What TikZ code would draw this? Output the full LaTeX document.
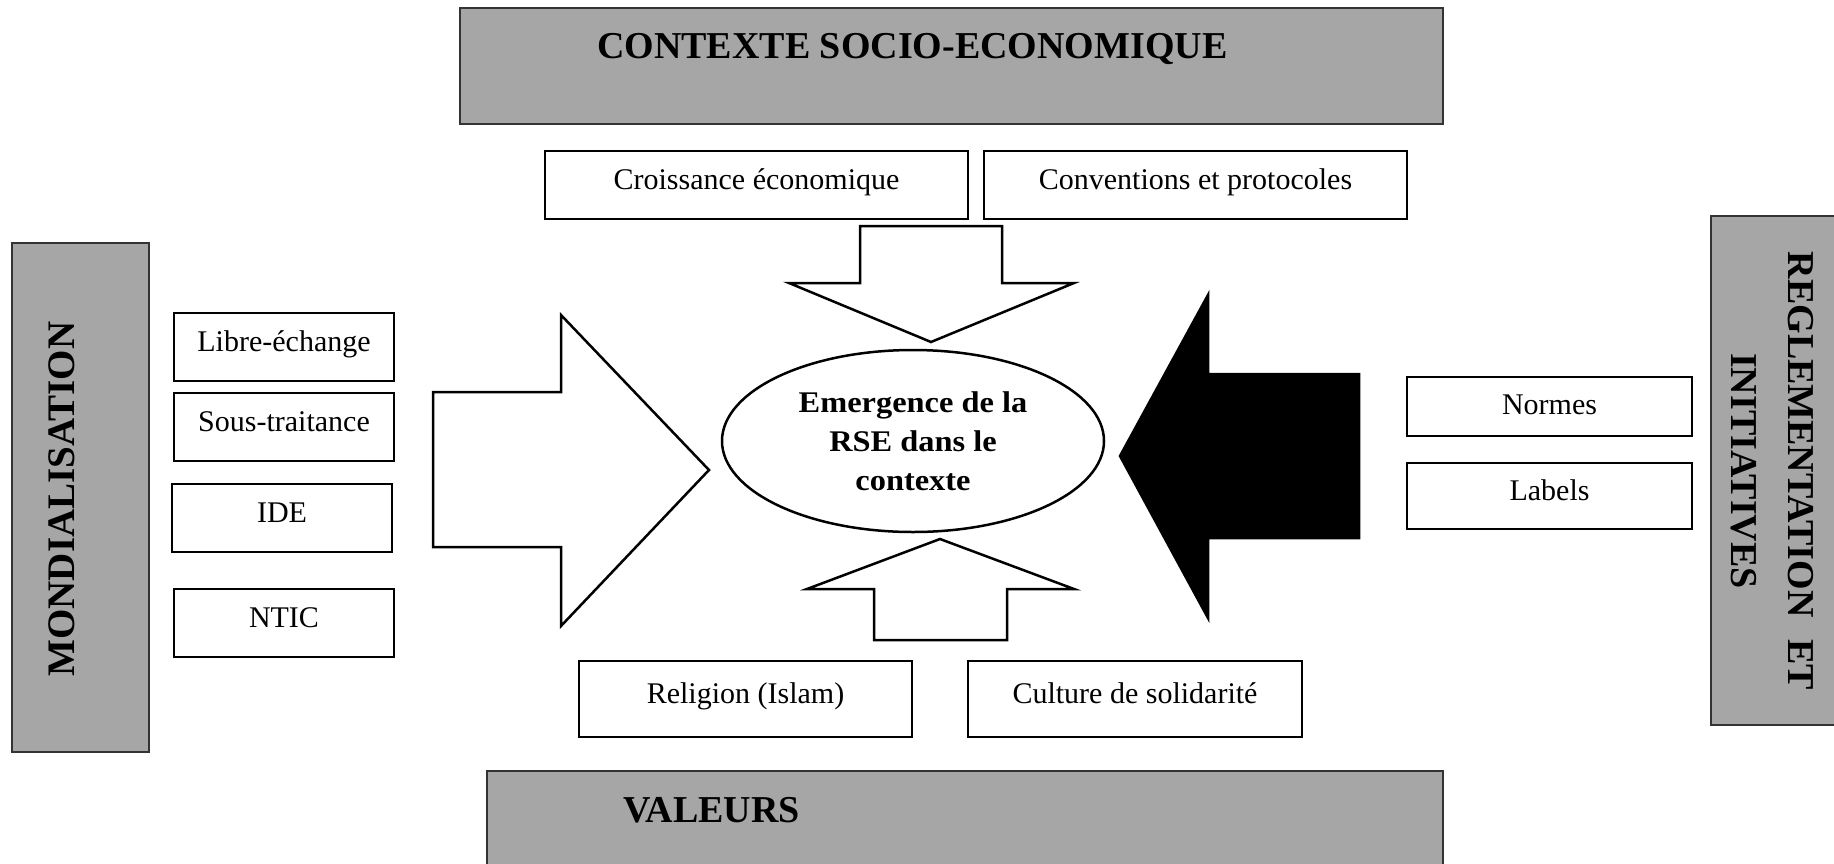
\documentclass[tikz,border=0pt]{standalone}
\usepackage{fontspec}
\setmainfont{Liberation Serif}
\newfontfamily\widebf[FakeStretch=1.08]{Liberation Serif}
\usetikzlibrary{shapes.geometric}
\definecolor{panelgrey}{HTML}{A6A6A6}

\begin{document}
\begin{tikzpicture}[x=1pt, y=-1pt,
    panel/.style={draw=black!80, line width=1.5pt, fill=panelgrey, inner sep=0pt},
    factor/.style={draw, line width=2.5pt, inner sep=0pt, minimum height=68pt,
                   text height=24pt, text depth=16pt, font=\fontsize{30}{36}\selectfont},
    flow/.style={draw, line width=2.5pt, line join=miter}]

  \useasboundingbox (0,0) rectangle (1834,863);

  \node[panel, minimum width=983pt, minimum height=116pt] (ctx) at (951.5,66) {};
  \node[panel, minimum width=956pt, minimum height=129pt] (val) at (965,835.5) {};
  \node[panel, minimum width=137pt, minimum height=509pt] (mond) at (80.5,497.5) {};
  \node[panel, minimum width=189pt, minimum height=509pt] (regl) at (1805.5,470.5) {};

  \node[anchor=base west, inner sep=0pt, font=\bfseries\fontsize{38}{44}\selectfont]
    (ctxtitle) at (597,58) {CONTEXTE SOCIO-ECONOMIQUE};
  \node[anchor=base west, inner sep=0pt, font=\bfseries\fontsize{38}{44}\selectfont]
    (valtitle) at (623,822) {VALEURS};
  \node[rotate=90, inner sep=0pt, font=\bfseries\fontsize{39}{44}\selectfont]
    (mondtitle) at (62,499) {MONDIALISATION};
  \node[rotate=-90, inner sep=0pt, align=center, font=\bfseries\fontsize{38}{57}\selectfont]
    (regltitle) at (1772,471) {REGLEMENTATION\hspace{22pt}ET\\INITIATIVES};

  \node[factor, minimum width=423pt] (croiss) at (756.5,185) {Croissance économique};
  \node[factor, minimum width=423pt] (conv) at (1195.5,185) {Conventions et protocoles};
  \node[factor, minimum width=220pt] (libre) at (284,347) {Libre-échange};
  \node[factor, minimum width=220pt] (sous) at (284,427) {Sous-traitance};
  \node[factor, minimum width=220pt] (ide) at (282,518) {IDE};
  \node[factor, minimum width=220pt] (ntic) at (284,623) {NTIC};
  \node[factor, minimum width=285pt, minimum height=59pt, text depth=8pt] (normes) at (1549.5,406.5) {Normes};
  \node[factor, minimum width=285pt, minimum height=66pt] (labels) at (1549.5,496) {Labels};
  \node[factor, minimum width=333pt, minimum height=76pt] (relig) at (745.5,699) {Religion (Islam)};
  \node[factor, minimum width=334pt, minimum height=76pt] (cult) at (1135,699) {Culture de solidarité};

  \node[ellipse, draw, line width=2.5pt, inner sep=0pt, minimum width=382pt, minimum height=182pt,
        align=center, font=\widebf\bfseries\fontsize{30}{39}\selectfont]
    (rse) at (913,441) {Emergence de la\\RSE dans le\\contexte};

  \draw[flow] (433,392) -- (561,392) -- (561,315) -- (709,470) -- (561,626) -- (561,547) -- (433,547) -- cycle;
  \draw[flow] (860,226) -- (1002,226) -- (1002,283) -- (1074,283) -- (931,342) -- (789,283) -- (860,283) -- cycle;
  \draw[flow] (940,539) -- (1074,589) -- (1007,589) -- (1007,640) -- (874,640) -- (874,589) -- (807,589) -- cycle;
  \draw[flow, fill=black] (1120,456) -- (1208,295) -- (1208,374) -- (1359,374) -- (1359,538) -- (1208,538) -- (1208,618) -- cycle;

\end{tikzpicture}
\end{document}
